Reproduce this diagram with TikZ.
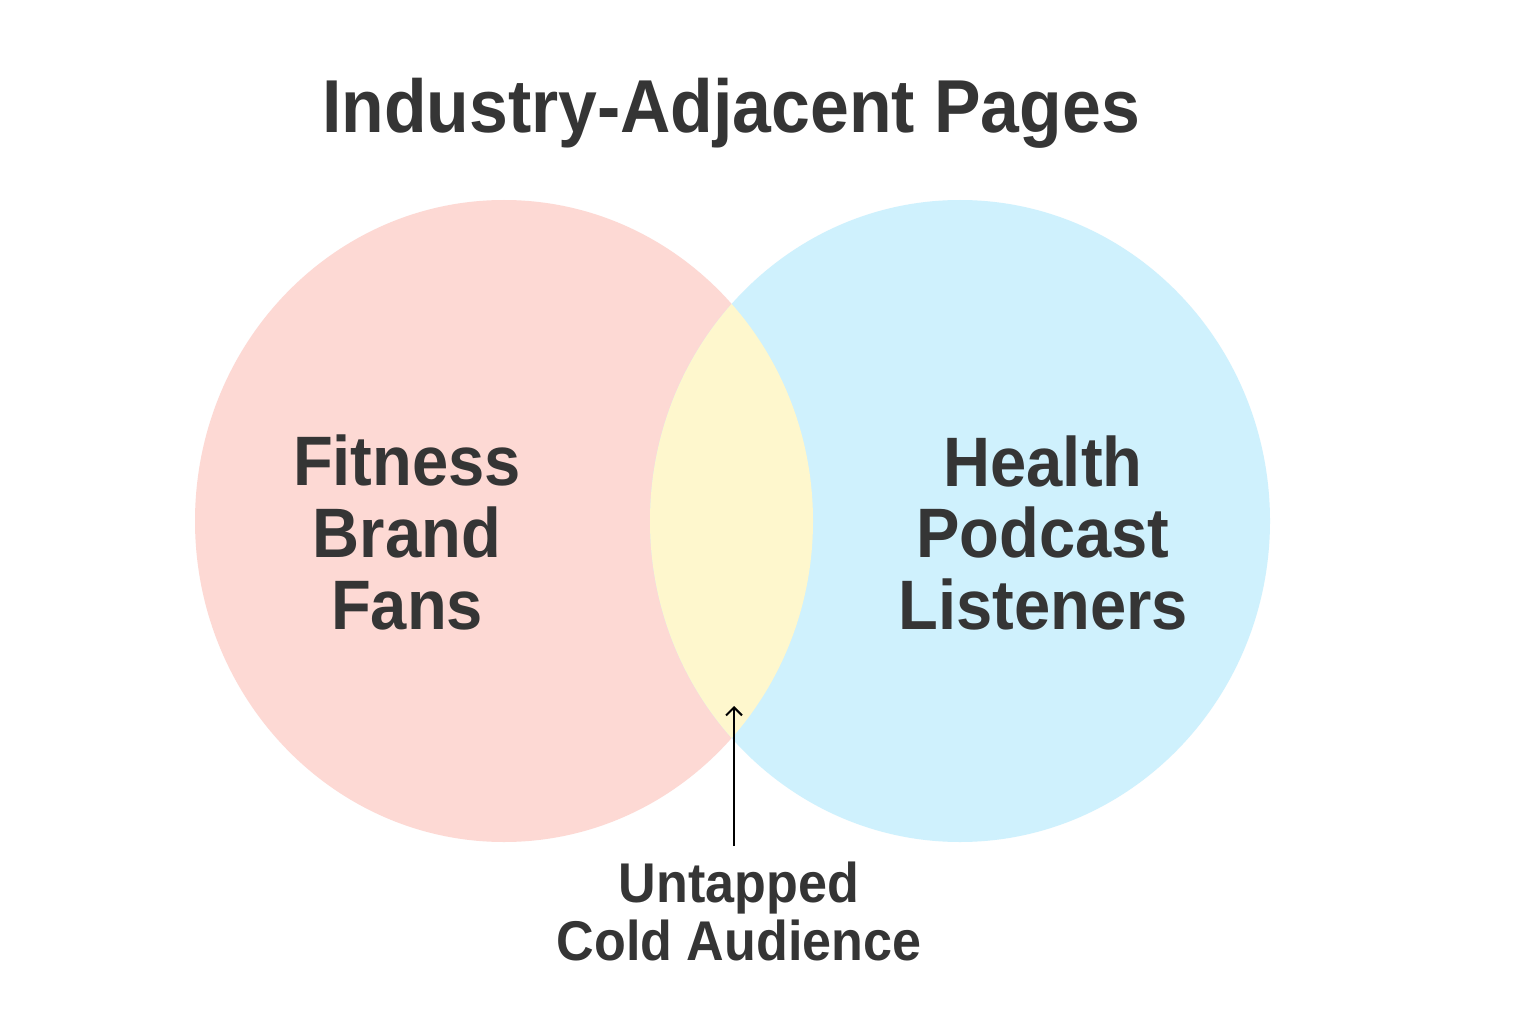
\documentclass[tikz,border=0pt]{standalone}
\usepackage{fontspec}
\setmainfont{Liberation Sans}
\newfontfamily\labfont{Liberation Sans Bold}[FakeStretch=0.93]
\usetikzlibrary{arrows.meta}
\definecolor{pinkc}{HTML}{FDD9D4}
\definecolor{bluec}{HTML}{CFF1FD}
\definecolor{yellowc}{HTML}{FEF7CD}
\definecolor{textc}{HTML}{353535}
\tikzset{
  txt/.style={inner sep=0pt, anchor=base, text=textc},
  titletxt/.style={txt, font=\labfont\fontsize{75}{80}\selectfont},
  bigtxt/.style={txt, font=\labfont\fontsize{70}{72}\selectfont},
  midtxt/.style={txt, font=\labfont\fontsize{56}{58}\selectfont},
  pointer/.style={draw=black, line width=2.2pt, -{Straight Barb[length=8pt,width=16pt,line width=2pt]}}
}
\begin{document}
\begin{tikzpicture}[x=1pt,y=-1pt]
\useasboundingbox (0,0) rectangle (1536,1024);
\fill[white] (0,0) rectangle (1536,1024);
% circles
\fill[pinkc] (504,521) ellipse [x radius=309pt, y radius=321pt];
\fill[bluec] (960,521) ellipse [x radius=310pt, y radius=321pt];
\begin{scope}
  \clip (504,521) ellipse [x radius=309pt, y radius=321pt];
  \fill[yellowc] (960,521) ellipse [x radius=310pt, y radius=321pt];
\end{scope}
% title
\node[titletxt] (title) at (731,133) {Industry-Adjacent Pages};
% left label
\node[bigtxt] (fit) at (407,485) {Fitness};
\node[bigtxt] (brand) at (407,557) {Brand};
\node[bigtxt] (fans) at (407,629) {Fans};
% right label
\node[bigtxt] (health) at (1043,486) {Health};
\node[bigtxt] (podcast) at (1043,557) {Podcast};
\node[bigtxt] (listen) at (1043,629) {Listeners};
% bottom label
\node[midtxt] (untap) at (739,902) {Untapped};
\node[midtxt] (cold) at (739,960) {Cold Audience};
% arrow
\coordinate (arrS) at (734,846);
\coordinate (arrE) at (734,706);
\draw[pointer] (arrS) -- (arrE);
\end{tikzpicture}
\end{document}
